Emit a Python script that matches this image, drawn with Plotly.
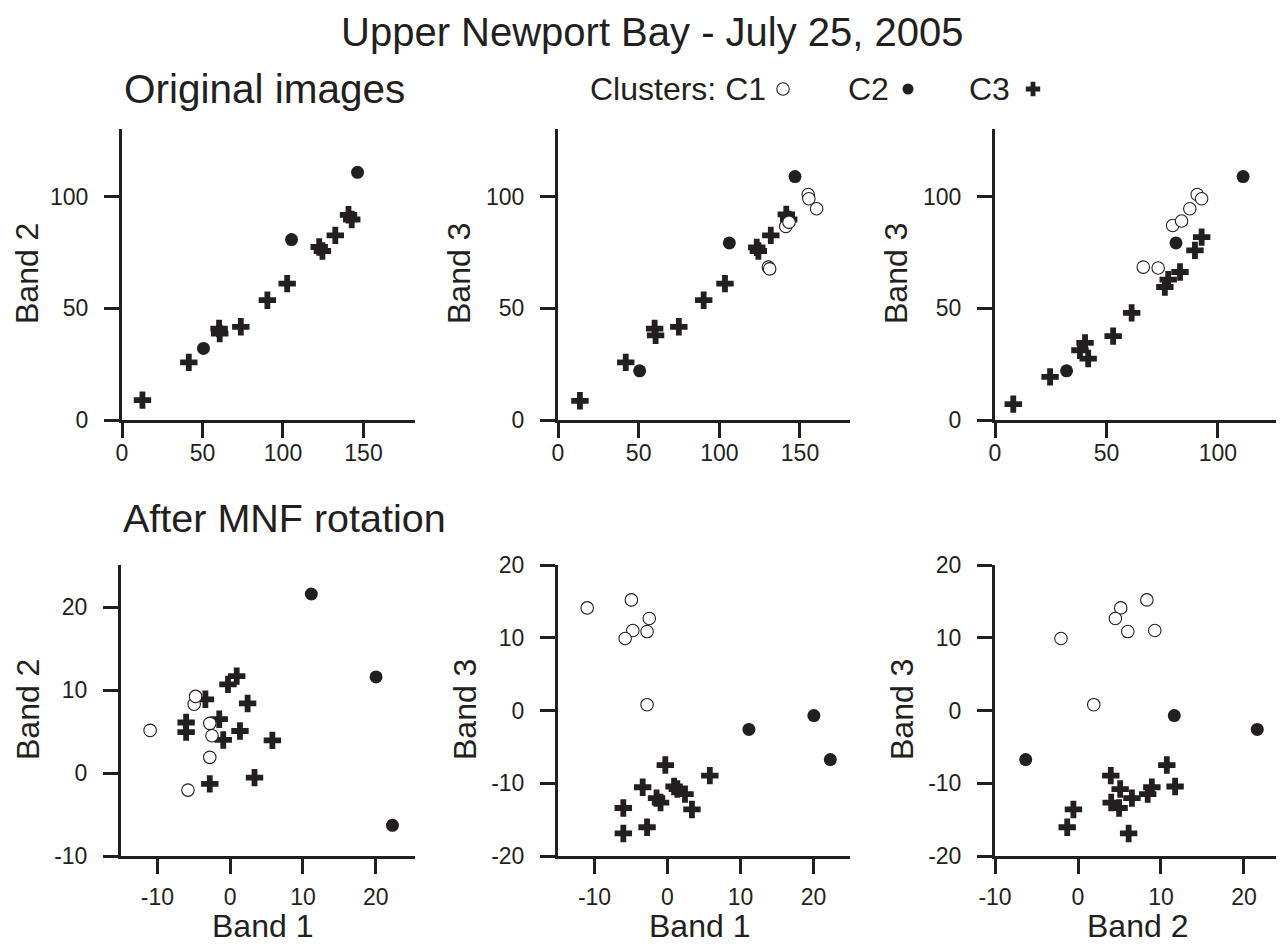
import plotly.graph_objects as go

# ---------------- data ----------------
# Original images, panel 1: Band 1 (x) vs Band 2 (y)
p1_c2_x = [50.6, 105.3, 146.3]
p1_c2_y = [32.0, 80.7, 110.8]
p1_c3_x = [12.7, 41.5, 60.3, 60.7, 73.8, 90.3, 102.6, 122.5, 124.5, 132.5, 140.7, 142.7]
p1_c3_y = [8.9, 25.8, 40.9, 38.7, 41.7, 53.6, 61.0, 77.4, 75.6, 82.6, 91.8, 89.7]

# Original images, panel 2: Band 1 (x) vs Band 3 (y)
p2_c1_x = [130.4, 131.2, 141.2, 143.2, 155.1, 155.5, 160.3]
p2_c1_y = [68.4, 67.6, 86.6, 88.5, 100.9, 99.0, 94.5]
p2_c2_x = [50.6, 106.2, 146.9]
p2_c2_y = [22.0, 79.2, 108.9]
p2_c3_x = [13.6, 42.0, 59.9, 60.5, 74.9, 90.3, 103.5, 123.2, 124.2, 131.9, 141.5, 143.0]
p2_c3_y = [8.6, 25.8, 40.9, 37.9, 41.7, 53.6, 61.0, 77.2, 75.6, 82.6, 92.0, 89.7]

# Original images, panel 3: Band 2 (x) vs Band 3 (y)
p3_c1_x = [66.5, 73.2, 79.7, 83.7, 87.4, 90.7, 92.7]
p3_c1_y = [68.4, 68.0, 87.0, 89.0, 94.5, 100.9, 99.0]
p3_c2_x = [32.1, 81.2, 111.3]
p3_c2_y = [22.0, 79.2, 108.9]
p3_c3_x = [8.2, 24.7, 38.1, 40.4, 41.8, 53.0, 61.3, 76.2, 77.7, 83.0, 89.7, 92.7]
p3_c3_y = [7.1, 19.3, 31.2, 34.5, 27.5, 37.5, 47.9, 59.5, 62.8, 66.2, 75.9, 81.8]

# After MNF rotation: bands 1-3 per cluster
mnf_c1_b1 = [-11.0, -4.95, -4.75, -5.8, -2.5, -2.8, -2.8]
mnf_c1_b2 = [5.15, 8.3, 9.25, -2.05, 4.5, 6.0, 1.9]
mnf_c1_b3 = [14.1, 15.2, 11.0, 9.9, 12.65, 10.85, 0.8]

mnf_c2_b1 = [11.15, 20.05, 22.3]
mnf_c2_b2 = [21.6, 11.6, -6.3]
mnf_c2_b3 = [-2.6, -0.7, -6.75]

mnf_c3_b1 = [-6.05, -6.05, -3.4, -1.5, -0.3, 0.9, 2.4, -0.95, 1.35, 5.8, 3.35, -2.8]
mnf_c3_b2 = [6.1, 4.95, 8.9, 6.5, 10.7, 11.7, 8.4, 4.0, 5.08, 3.95, -0.55, -1.3]
mnf_c3_b3 = [-16.9, -13.4, -10.55, -12.05, -7.5, -10.45, -11.5, -12.65, -10.8, -8.95, -13.6, -16.05]

top_ticks = [0, 50, 100]
top_ticks_x12 = [0, 50, 100, 150]
mnf_ticks_a = [-10, 0, 10, 20]
mnf_ticks_b = [-20, -10, 0, 10, 20]

cluster_names = ["C1", "C2", "C3"]

# ---------------- styling ----------------
PAGE_W, PAGE_H = 1284, 946
OFF = 8  # page body margin: figure starts at (8, 8)
W, H = PAGE_W - OFF, PAGE_H - OFF
INK = "#231f20"
FONT = "Liberation Sans, Arial, Helvetica, sans-serif"


def dx(px):
    return (px - OFF) / W


def dy(py):
    return 1 - (py - OFF) / H


def fmt(v):
    return str(v)  # plain hyphen minus as in the reference


fig = go.Figure()

open_marker = dict(symbol="circle", size=12.5, color="white", line=dict(color=INK, width=1.1))
dot_marker = dict(symbol="circle", size=13, color=INK, line=dict(width=0))
cross_marker = dict(symbol="cross", size=14.5, color=INK, line=dict(width=0))
markers = [open_marker, dot_marker, cross_marker]

panels = [
    ([(None, None), (p1_c2_x, p1_c2_y), (p1_c3_x, p1_c3_y)], ""),
    ([(p2_c1_x, p2_c1_y), (p2_c2_x, p2_c2_y), (p2_c3_x, p2_c3_y)], "2"),
    ([(p3_c1_x, p3_c1_y), (p3_c2_x, p3_c2_y), (p3_c3_x, p3_c3_y)], "3"),
    ([(mnf_c1_b1, mnf_c1_b2), (mnf_c2_b1, mnf_c2_b2), (mnf_c3_b1, mnf_c3_b2)], "4"),
    ([(mnf_c1_b1, mnf_c1_b3), (mnf_c2_b1, mnf_c2_b3), (mnf_c3_b1, mnf_c3_b3)], "5"),
    ([(mnf_c1_b2, mnf_c1_b3), (mnf_c2_b2, mnf_c2_b3), (mnf_c3_b2, mnf_c3_b3)], "6"),
]

for series, suf in panels:
    for idx in [2, 1, 0]:
        xs, ys = series[idx]
        if xs is None:
            continue
        fig.add_trace(go.Scatter(
            x=xs, y=ys, mode="markers", marker=markers[idx], name=cluster_names[idx],
            xaxis="x" + suf, yaxis="y" + suf, showlegend=False, hoverinfo="skip",
            cliponaxis=False,
        ))

# cluster key symbols, placed on an invisible full-page pixel axis
key_px_x = [783, 908, 1033]
key_px_y = [89, 89, 89]
key_markers = [
    dict(symbol="circle", size=12.5, color="white", line=dict(color=INK, width=1.1)),
    dict(symbol="circle", size=11, color=INK, line=dict(width=0)),
    dict(symbol="cross", size=12, color=INK, line=dict(width=0)),
]
for k in range(3):
    fig.add_trace(go.Scatter(
        x=[key_px_x[k]], y=[key_px_y[k]], mode="markers", marker=key_markers[k],
        xaxis="x7", yaxis="y7", showlegend=False, hoverinfo="skip", cliponaxis=False,
    ))


def axis(domain, rng, ticks, anchor, standoff=0):
    return dict(
        domain=domain, range=rng, anchor=anchor, automargin=False,
        tickmode="array", tickvals=ticks, ticktext=[fmt(t) for t in ticks],
        showgrid=False, zeroline=False, showline=True,
        linecolor=INK, linewidth=3, ticks="outside", ticklen=15, tickwidth=2.5,
        tickcolor=INK, tickfont=dict(family=FONT, size=23, color=INK),
        ticklabelstandoff=standoff, fixedrange=True,
    )


col_top = [(122, 415), (558, 850), (995, 1283)]
col_bot = [(121, 415), (558, 850), (995, 1283)]
row_top = [dy(420), dy(128.5)]
row_bot = [dy(856), dy(565)]

x_ranges = [[0, 182], [0, 181], [0, 129.2], [-15, 25.4], [-15, 25], [-10, 24.7]]
y_ranges = [[0, 130.4], [0, 130.4], [0, 130.4], [-10, 25.1], [-20, 20], [-20, 20]]
x_ticks = [top_ticks_x12, top_ticks_x12, top_ticks, mnf_ticks_a, mnf_ticks_a, mnf_ticks_a]
y_ticks = [top_ticks, top_ticks, top_ticks, mnf_ticks_a, mnf_ticks_b, mnf_ticks_b]

layout = dict(
    template="none",
    width=W, height=H, margin=dict(l=0, r=0, t=0, b=0, pad=0, autoexpand=False),
    paper_bgcolor="white", plot_bgcolor="rgba(0,0,0,0)", showlegend=False,
    font=dict(family=FONT, color=INK),
)
for i in range(6):
    suf = "" if i == 0 else str(i + 1)
    cols = col_top if i < 3 else col_bot
    c = cols[i % 3]
    row = row_top if i < 3 else row_bot
    xs_off = -5 if i < 3 else 3
    layout["xaxis" + suf] = axis([dx(c[0]), dx(c[1])], x_ranges[i], x_ticks[i], "y" + suf, xs_off)
    layout["yaxis" + suf] = axis(row, y_ranges[i], y_ticks[i], "x" + suf, 11)

layout["xaxis7"] = dict(domain=[0, 1], range=[OFF, PAGE_W], visible=False, fixedrange=True,
                        anchor="y7", automargin=False)
layout["yaxis7"] = dict(domain=[0, 1], range=[PAGE_H, OFF], visible=False, fixedrange=True,
                        anchor="x7", automargin=False)

fig.update_layout(**layout)

ann = []


def text(t, x, y, size, xanchor="center", yanchor="middle", angle=0):
    ann.append(dict(text=t, x=dx(x), y=dy(y), xref="paper", yref="paper",
                    xanchor=xanchor, yanchor=yanchor, textangle=angle, showarrow=False,
                    font=dict(family=FONT, size=size, color=INK)))


text("Upper Newport Bay - July 25, 2005", 652, 32, 40)
text("Original images", 122, 89, 40.5, xanchor="left")
text("After MNF rotation", 121, 518, 39.5, xanchor="left")

# cluster key labels
text("Clusters: " + cluster_names[0], 588, 89, 32, xanchor="left")
text(cluster_names[1], 846, 89, 32, xanchor="left")
text(cluster_names[2], 967, 89, 32, xanchor="left")

# axis titles
y_titles = ["Band 2", "Band 3", "Band 3", "Band 2", "Band 3", "Band 3"]
y_title_x = [27, 459, 896, 28, 465, 902]
for i in range(6):
    yc = 274 if i < 3 else 710
    text(y_titles[i], y_title_x[i], yc, 32, angle=-90)

x_titles = ["Band 1", "Band 1", "Band 2"]
x_title_x = [263, 699, 1137]
for i in range(3):
    text(x_titles[i], x_title_x[i], PAGE_H, 32, yanchor="bottom")

fig.update_layout(annotations=ann)
fig.write_html("out.html")
